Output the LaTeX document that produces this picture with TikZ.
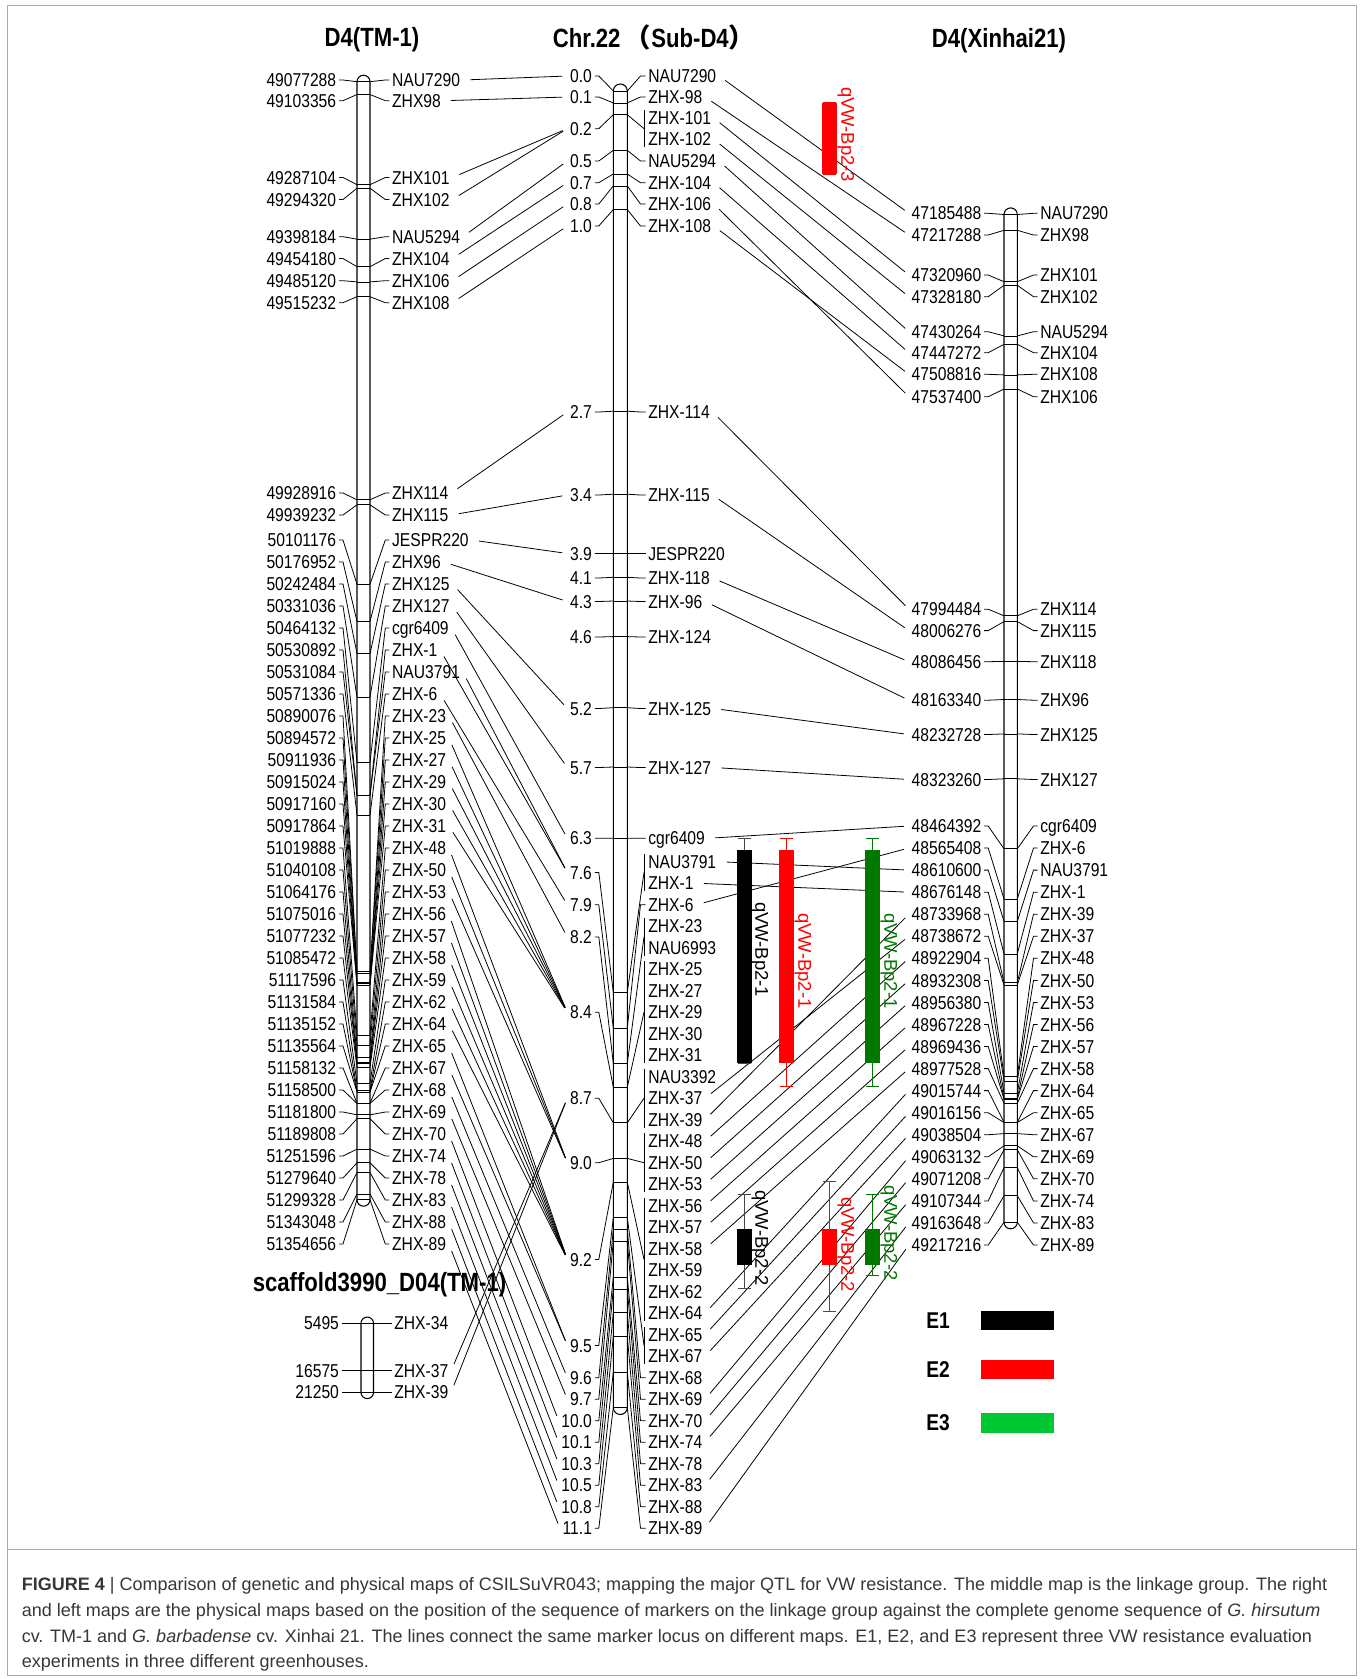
\documentclass[tikz,border=0pt]{standalone}
\usepackage{fontspec}
\setmainfont[FakeStretch=0.84]{Liberation Sans}
\newfontfamily\qtlfont{Liberation Sans}
\newfontfamily\capfont{Liberation Sans}
\newfontfamily\cjk{Noto Sans CJK SC}
\usetikzlibrary{calc}
\definecolor{qgreen}{RGB}{0,120,0}
\definecolor{lgreen}{RGB}{0,200,50}
\definecolor{whisk}{RGB}{70,70,70}
\definecolor{capgray}{RGB}{55,55,55}
\definecolor{framegray}{RGB}{170,170,170}
\begin{document}
\begin{tikzpicture}[x=0.2mm,y=-0.2mm,line width=0.45pt,
  lbl/.style={inner xsep=1.4pt,inner ysep=0pt,text height=7.6pt,text depth=0pt,font=\fontsize{10.6}{12}\selectfont},
  ttl/.style={inner sep=0pt,font=\fontsize{15}{16}\selectfont\bfseries},
  bar/.style={line width=0.6pt,rounded corners=#1},
  link/.style={shorten <=1.5mm,shorten >=1mm},
  qtl/.style={rotate=-90,anchor=west,inner sep=0pt,font=\qtlfont\fontsize{10.5}{12}\selectfont},
  capt/.style={anchor=base west,inner sep=0pt,text=capgray,font=\capfont\fontsize{10.25}{12}\selectfont}]
\useasboundingbox (0,0) rectangle (1363,1679);
\draw[framegray] (7,5) rectangle (1356,1675);
\draw[framegray] (7,1549) -- (1356,1549);
\node[ttl] (tl) at (372,40) {D4(TM-1)};
\node[ttl] (tc) at (654,37.5) {Chr.22\,{\cjk （}Sub-D4{\cjk ）}};
\node[ttl] (tr) at (999,40.5) {D4(Xinhai21)};
\node[ttl] (ts) at (379.5,1285) {scaffold3990\_D04(TM-1)};
% left map
\draw[bar=1.3mm] (357,75.2) rectangle (370,1206.2);
\foreach \i/\pos/\mk/\ty/\ry in {1/49077288/NAU7290/81.7/80,2/49103356/ZHX98/94.5/100.7,3/49287104/ZHX101/184.7/177.5,4/49294320/ZHX102/188.2/199.5,5/49398184/NAU5294/239.2/236.7,6/49454180/ZHX104/266.7/258.5,7/49485120/ZHX106/281.9/280.7,8/49515232/ZHX108/296.7/302.7,9/49928916/ZHX114/499.8/493,10/49939232/ZHX115/504.8/515,11/50101176/JESPR220/584.3/540,12/50176952/ZHX96/621.5/562,13/50242484/ZHX125/653.7/584,14/50331036/ZHX127/697.2/606,15/50464132/cgr6409/762.5/628,16/50530892/ZHX-1/795.3/650,17/50531084/NAU3791/795.4/672,18/50571336/ZHX-6/815.1/694,19/50890076/ZHX-23/971.6/716,20/50894572/ZHX-25/973.8/738,21/50911936/ZHX-27/982.3/760,22/50915024/ZHX-29/983.8/782,23/50917160/ZHX-30/984.9/804,24/50917864/ZHX-31/985.2/826,25/51019888/ZHX-48/1035.3/848,26/51040108/ZHX-50/1045.2/870,27/51064176/ZHX-53/1057.1/892,28/51075016/ZHX-56/1062.4/914,29/51077232/ZHX-57/1063.5/936,30/51085472/ZHX-58/1067.5/958,31/51117596/ZHX-59/1083.3/980,32/51131584/ZHX-62/1090.2/1002,33/51135152/ZHX-64/1091.9/1024,34/51135564/ZHX-65/1092.1/1046,35/51158132/ZHX-67/1103.2/1068,36/51158500/ZHX-68/1103.4/1090,37/51181800/ZHX-69/1114.8/1112,38/51189808/ZHX-70/1118.7/1134,39/51251596/ZHX-74/1149.1/1156,40/51279640/ZHX-78/1162.8/1178,41/51299328/ZHX-83/1172.5/1200,42/51343048/ZHX-88/1194/1222,43/51354656/ZHX-89/1199.7/1244} {
  \coordinate (ltl\i) at (357,\ty); \coordinate (ltr\i) at (370,\ty);
  \draw (ltl\i) -- (ltr\i);
  \node[lbl,anchor=east] (ln\i) at (339,\ry) {\pos};
  \node[lbl,anchor=west] (lm\i) at (389.3,\ry) {\mk};
  \draw (ln\i.east) -- ++(4,0) -- (ltl\i);
  \draw (lm\i.west) -- ++(-4,0) -- (ltr\i);
}
% scaffold
\draw[bar=1.25mm] (361,1317) rectangle (373.5,1398.6);
\foreach \i/\pos/\mk/\ty in {1/5495/ZHX-34/1323.3,2/16575/ZHX-37/1370.7,3/21250/ZHX-39/1392.3} {
  \node[lbl,anchor=east] (sn\i) at (341.8,\ty) {\pos};
  \node[lbl,anchor=west] (sm\i) at (391.5,\ty) {\mk};
  \draw (sn\i.east) -- (sm\i.west);
}
% linkage group
\draw[bar=1.4mm] (613.3,84) rectangle (627.3,1414.5);
\coordinate (nx) at (594.8,0);
\foreach \j/\mk/\ry in {1/NAU7290/76,2/ZHX-98/97,3/ZHX-101/118,4/ZHX-102/139.3,5/NAU5294/161,6/ZHX-104/182.7,7/ZHX-106/204,8/ZHX-108/226,9/ZHX-114/412,10/ZHX-115/495,11/JESPR220/553.5,12/ZHX-118/578,13/ZHX-96/601.5,14/ZHX-124/637,15/ZHX-125/708.5,16/ZHX-127/767.5,17/cgr6409/838.3}
  \node[lbl,anchor=west] (cm\j) at (645.5,\ry) {\mk};
\foreach \mk [count=\j from 18] in {NAU3791,ZHX-1,ZHX-6,ZHX-23,NAU6993,ZHX-25,ZHX-27,ZHX-29,ZHX-30,ZHX-31,NAU3392,ZHX-37,ZHX-39,ZHX-48,ZHX-50,ZHX-53,ZHX-56,ZHX-57,ZHX-58,ZHX-59,ZHX-62,ZHX-64,ZHX-65,ZHX-67,ZHX-68,ZHX-69,ZHX-70,ZHX-74,ZHX-78,ZHX-83,ZHX-88,ZHX-89}
  \node[lbl,anchor=west] (cm\j) at (645.5,{861.7+21.5*(\j-18)}) {\mk};
\foreach \i/\cmv/\ty/\ga/\gb in {1/0.0/91/1/1,2/0.1/102.9/2/2,3/0.2/114.7/3/4,4/0.5/150.3/5/5,5/0.7/174/6/6,6/0.8/185.9/7/7,7/1.0/209.6/8/8,8/2.7/411.2/9/9,9/3.4/494.2/10/10,10/3.9/553.5/11/11,11/4.1/577.3/12/12,12/4.3/601/13/13,13/4.6/636.6/14/14,14/5.2/707.7/15/15,15/5.7/767/16/16,16/6.3/838.2/17/17,17/7.6/992.4/18/19,18/7.9/1028/20/20,19/8.2/1063.5/21/22,20/8.4/1087.2/23/27,21/8.7/1122.8/28/30,22/9.0/1158.4/31/33,23/9.2/1182.1/34/39,24/9.5/1217.7/40/41,25/9.6/1229.6/42/42,26/9.7/1241.4/43/43,27/10.0/1277/44/44,28/10.1/1288.9/45/45,29/10.3/1312.6/46/46,30/10.5/1336.3/47/47,31/10.8/1371.9/48/48,32/11.1/1407.5/49/49} {
  \coordinate (ctl\i) at (613.3,\ty); \coordinate (ctr\i) at (627.3,\ty);
  \draw (ctl\i) -- (ctr\i);
  \coordinate (cc\i) at ($(cm\ga.west)!.5!(cm\gb.west)$);
  \node[lbl,anchor=east] (cn\i) at (cc\i -| nx) {\cmv};
  \draw (cn\i.east) -- ++(4,0) -- (ctl\i);
  \ifnum\ga=\gb
    \draw (ctr\i) -- ([shift={(-5,0)}]cm\ga.west) -- (cm\ga.west);
  \else
    \draw (ctr\i) -- ([shift={(-1.5,0)}]cc\i);
    \draw ([shift={(-1.5,-8)}]cm\ga.west) -- ([shift={(-1.5,8)}]cm\gb.west);
  \fi
}
% right map
\draw[bar=1.33mm] (1004,207.9) rectangle (1017.3,1228.8);
\foreach \i/\pos/\mk/\ty/\ry in {1/47185488/NAU7290/214.5/213.3,2/47217288/ZHX98/230.3/235,3/47320960/ZHX101/281.7/275,4/47328180/ZHX102/285.3/296.7,5/47430264/NAU5294/335.9/331.7,6/47447272/ZHX104/344.3/352.7,7/47508816/ZHX108/374.9/374.3,8/47537400/ZHX106/389/396.7,9/47994484/ZHX114/615.8/609.2,10/48006276/ZHX115/621.6/630.6,11/48086456/ZHX118/661.4/661.7,12/48163340/ZHX96/699.5/700.2,13/48232728/ZHX125/733.9/734.5,14/48323260/ZHX127/778.8/779.5,15/48464392/cgr6409/848.8/826,16/48565408/ZHX-6/898.9/848,17/48610600/NAU3791/921.4/870.1,18/48676148/ZHX-1/953.9/892.2,19/48733968/ZHX-39/982.5/914.2,20/48738672/ZHX-37/984.9/936.3,21/48922904/ZHX-48/1076.3/958.3,22/48932308/ZHX-50/1080.9/980.4,23/48956380/ZHX-53/1092.9/1002.4,24/48967228/ZHX-56/1098.2/1024.5,25/48969436/ZHX-57/1099.3/1046.5,26/48977528/ZHX-58/1103.3/1068.6,27/49015744/ZHX-64/1122.3/1090.6,28/49016156/ZHX-65/1122.5/1112.7,29/49038504/ZHX-67/1133.6/1134.7,30/49063132/ZHX-69/1145.8/1156.8,31/49071208/ZHX-70/1149.8/1178.8,32/49107344/ZHX-74/1167.7/1200.9,33/49163648/ZHX-83/1195.7/1222.9,34/49217216/ZHX-89/1222.2/1245} {
  \coordinate (rtl\i) at (1004,\ty); \coordinate (rtr\i) at (1017.3,\ty);
  \draw (rtl\i) -- (rtr\i);
  \node[lbl,anchor=east] (rn\i) at (984.2,\ry) {\pos};
  \node[lbl,anchor=west] (rm\i) at (1037.5,\ry) {\mk};
  \draw (rn\i.east) -- ++(4,0) -- (rtl\i);
  \draw (rm\i.west) -- ++(-4,0) -- (rtr\i);
}
% links between maps
\foreach \i/\j in {1/1,2/2,3/3,4/3,5/4,6/5,7/6,8/7,9/8,10/9,11/10,12/12,13/14,14/15,15/16,16/17,17/17,18/18,19/19,20/20,21/20,22/20,23/20,24/20,25/22,26/22,27/22,28/23,29/23,30/23,31/23,32/23,33/23,34/24,35/24,36/25,37/26,38/27,39/28,40/29,41/30,42/31,43/32}
  \draw[link] (lm\i.east) -- (cn\j.west);
\foreach \i in {2,3} \draw[link] (sm\i.east) -- (cn21.west);
\foreach \j/\k in {1/1,2/2,3/3,4/4,5/5,6/6,7/8,8/7,9/9,10/10,12/11,13/12,15/13,16/14,17/15,18/17,19/18,20/16,29/20,30/19,31/21,32/22,33/23,34/24,35/25,36/26,39/27,40/28,41/29,43/30,44/31,45/32,47/33,49/34}
  \draw[link] (cm\j.east) -- (rn\k.west);
% QTL
\foreach \xx/\yt/\yb/\wt/\wb/\fc/\wc in {744.2/850/1063.3/838.3/1063.3/black/whisk,786.7/850/1063.3/838.3/1086.7/red/red,872.5/850/1063.3/838.3/1086.7/qgreen/qgreen,744.2/1229.3/1265/1194/1288.3/black/whisk,829.5/1229.3/1265/1181.7/1311.7/red/red,872.5/1229.3/1265/1194/1275/qgreen/qgreen,829.5/102.7/174.3/102.7/174.3/red/red} {
  \draw[\wc] (\xx-6.5,\wt) -- (\xx+6.5,\wt) (\xx,\wt) -- (\xx,\wb) (\xx-6.5,\wb) -- (\xx+6.5,\wb);
  \fill[\fc] (\xx-7.5,\yt) rectangle (\xx+7.5,\yb);
}
\node[qtl] (q1) at (760,901.7) {qVW-Bp2-1};
\node[qtl,red] (q2) at (803,913) {qVW-Bp2-1};
\node[qtl,qgreen] (q3) at (889,913) {qVW-Bp2-1};
\node[qtl] (q4) at (760,1190) {qVW-Bp2-2};
\node[qtl,red] (q5) at (846,1196.7) {qVW-Bp2-2};
\node[qtl,qgreen] (q6) at (889,1185) {qVW-Bp2-2};
\node[qtl,red] (q7) at (846,86.7) {qVW-Bp2-3};
% legend
\foreach \i/\ly/\col in {1/1320.2/black,2/1369.5/red,3/1423/lgreen} {
  \node[ttl,font=\fontsize{13}{14}\selectfont\bfseries] (e\i) at (938,\ly) {E\i};
  \fill[\col] (980.7,\ly-9.6) rectangle (1054,\ly+9.6);
}
% caption
\node[capt] (c1) at (21.4,1590.6) {\textbf{FIGURE 4} | Comparison of genetic and physical maps of CSILSuVR043; mapping the major QTL for VW resistance. The middle map is the linkage group. The right};
\node[capt] (c2) at (21.4,1616.3) {and left maps are the physical maps based on the position of the sequence of markers on the linkage group against the complete genome sequence of \textit{G. hirsutum}};
\node[capt] (c3) at (21.4,1642) {cv. TM-1 and \textit{G. barbadense} cv. Xinhai 21. The lines connect the same marker locus on different maps. E1, E2, and E3 represent three VW resistance evaluation};
\node[capt] (c4) at (21.4,1667.7) {experiments in three different greenhouses.};
\end{tikzpicture}
\end{document}
